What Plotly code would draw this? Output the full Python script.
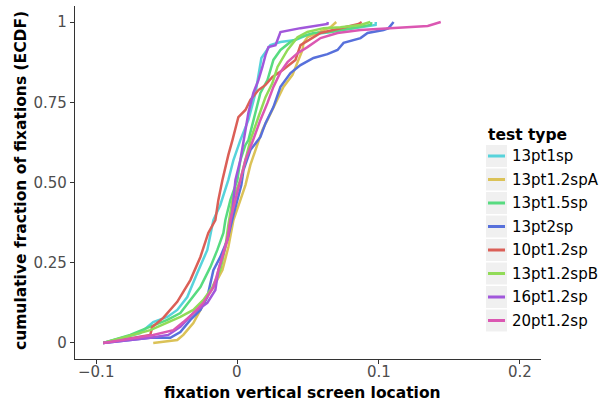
import plotly.graph_objects as go

# ---- data ----
names = ["13pt1sp", "13pt1.2spA", "13pt1.5sp", "13pt2sp",
         "10pt1.2sp", "13pt1.2spB", "16pt1.2sp", "20pt1.2sp"]
colors = ["#57d3db", "#dbc257", "#57db80", "#5770db",
          "#db5f57", "#91db57", "#a157db", "#db57b2"]

x_13pt1sp = [-0.095, -0.0688, -0.0596, -0.0496, -0.0426, -0.0355, -0.0284, -0.0213, -0.017, -0.0121,
             -0.0064, -0.0028, 0.0021, 0.0078, 0.0128, 0.0149, 0.017, 0.0234, 0.0305, 0.0411,
             0.0496, 0.061, 0.073, 0.0872, 0.0979, 0.098]
y_13pt1sp = [0, 0.031, 0.065, 0.081, 0.103, 0.143, 0.218, 0.29, 0.383, 0.43,
             0.508, 0.570, 0.632, 0.695, 0.779, 0.841, 0.888, 0.928, 0.938, 0.944,
             0.960, 0.966, 0.975, 0.984, 0.991, 1.0]

x_13pt12spA = [-0.0596, -0.0426, -0.0383, -0.0312, -0.0262, -0.0227, -0.017, -0.0106, -0.0064, -0.0028,
               0.0021, 0.0057, 0.0092, 0.0128, 0.0149, 0.0177, 0.0213, 0.027, 0.0326, 0.039,
               0.0426, 0.0461, 0.0468, 0.0496, 0.061, 0.066, 0.070]
y_13pt12spA = [0, 0.009, 0.025, 0.062, 0.103, 0.134, 0.174, 0.227, 0.299, 0.383,
               0.445, 0.492, 0.555, 0.601, 0.632, 0.664, 0.695, 0.748, 0.798, 0.835,
               0.872, 0.913, 0.935, 0.953, 0.975, 0.984, 1.0]

x_13pt15sp = [-0.095, -0.0759, -0.0638, -0.0496, -0.0404, -0.0333, -0.0262, -0.0191, -0.0142, -0.0099,
              -0.0085, -0.005, 0.0, 0.0021, 0.0057, 0.0078, 0.0128, 0.0163, 0.0213, 0.0255,
              0.0305, 0.0376, 0.0447, 0.0539, 0.066, 0.073, 0.0851, 0.0943, 0.095]
y_13pt15sp = [0, 0.025, 0.047, 0.072, 0.093, 0.134, 0.174, 0.237, 0.29, 0.343,
              0.383, 0.445, 0.508, 0.570, 0.617, 0.632, 0.717, 0.779, 0.819, 0.882,
              0.913, 0.938, 0.953, 0.966, 0.969, 0.975, 0.984, 0.991, 1.0]

x_13pt2sp = [-0.095, -0.0617, -0.0475, -0.0404, -0.0333, -0.0262, -0.0213, -0.017, -0.0121, -0.0071,
             -0.0028, 0.0028, 0.0043, 0.0092, 0.0163, 0.0199, 0.0255, 0.0305, 0.0376, 0.0447,
             0.0539, 0.0638, 0.0709, 0.0752, 0.0872, 0.0922, 0.1035, 0.1071, 0.1106]
y_13pt2sp = [0, 0.016, 0.016, 0.034, 0.072, 0.103, 0.143, 0.227, 0.268, 0.321,
             0.399, 0.492, 0.539, 0.601, 0.642, 0.685, 0.735, 0.798, 0.841, 0.866,
             0.888, 0.90, 0.913, 0.935, 0.950, 0.966, 0.975, 0.981, 1.0]

x_10pt12sp = [-0.095, -0.0617, -0.0603, -0.0525, -0.0426, -0.0333, -0.0262, -0.0206, -0.0156, -0.0135,
              -0.0106, -0.0085, -0.0064, -0.0035, 0.0007, 0.0057, 0.0092, 0.0149, 0.0199, 0.0248,
              0.0319, 0.0411, 0.0447, 0.0589, 0.073, 0.0858, 0.088]
y_10pt12sp = [0, 0.025, 0.05, 0.078, 0.128, 0.196, 0.268, 0.343, 0.383, 0.445,
              0.508, 0.548, 0.586, 0.632, 0.704, 0.726, 0.757, 0.788, 0.804, 0.829,
              0.850, 0.882, 0.928, 0.966, 0.981, 0.994, 1.0]

x_13pt12spB = [-0.095, -0.0794, -0.0617, -0.0404, -0.0312, -0.0241, -0.0177, -0.0121, -0.0085, -0.0064,
               -0.0035, 0.0021, 0.0057, 0.0092, 0.0149, 0.0199, 0.0248, 0.0284, 0.0355, 0.0426,
               0.0496, 0.061, 0.073, 0.0872, 0.094]
y_13pt12spB = [0, 0.019, 0.04, 0.081, 0.103, 0.134, 0.174, 0.227, 0.299, 0.368,
               0.445, 0.508, 0.570, 0.632, 0.704, 0.766, 0.81, 0.86, 0.913, 0.953,
               0.969, 0.981, 0.984, 0.991, 1.0]

x_16pt12sp = [-0.095, -0.0617, -0.0489, -0.0404, -0.0312, -0.0213, -0.0156, -0.0135, -0.0099, -0.0064,
              -0.0035, -0.0014, 0.0021, 0.0043, 0.0078, 0.0113, 0.0149, 0.0177, 0.0199, 0.022,
              0.027, 0.0305, 0.0447, 0.0638, 0.064]
y_16pt12sp = [0, 0.016, 0.025, 0.05, 0.093, 0.125, 0.165, 0.227, 0.28, 0.336,
              0.414, 0.508, 0.570, 0.632, 0.717, 0.779, 0.819, 0.86, 0.897, 0.922,
              0.928, 0.969, 0.981, 0.994, 1.0]

x_20pt12sp = [-0.095, -0.0596, -0.0454, -0.0383, -0.0312, -0.0241, -0.017, -0.0121, -0.0071, -0.005,
              -0.0014, 0.0021, 0.0057, 0.0106, 0.0163, 0.0213, 0.0255, 0.0305, 0.0355, 0.0426,
              0.0496, 0.0589, 0.0709, 0.0872, 0.1156, 0.1348, 0.144]
y_20pt12sp = [0, 0.025, 0.04, 0.065, 0.093, 0.125, 0.174, 0.249, 0.321, 0.383,
              0.445, 0.508, 0.570, 0.626, 0.695, 0.748, 0.798, 0.844, 0.875, 0.903,
              0.922, 0.95, 0.966, 0.975, 0.984, 0.988, 1.0]

series_x = [x_13pt1sp, x_13pt12spA, x_13pt15sp, x_13pt2sp,
            x_10pt12sp, x_13pt12spB, x_16pt12sp, x_20pt12sp]
series_y = [y_13pt1sp, y_13pt12spA, y_13pt15sp, y_13pt2sp,
            y_10pt12sp, y_13pt12spB, y_16pt12sp, y_20pt12sp]

x_ticks = [-0.1, 0, 0.1, 0.2]
x_ticklabels = ["\u22120.1", "0", "0.1", "0.2"]
y_ticks = [0, 0.25, 0.5, 0.75, 1]
y_ticklabels = ["0", "0.25", "0.50", "0.75", "1"]

FONT = "DejaVu Sans"

fig = go.Figure()
for nm, col, xs, ys in zip(names, colors, series_x, series_y):
    fig.add_trace(go.Scatter(x=xs, y=ys, mode="lines", name=nm,
                             line=dict(color=col, width=2.5),
                             showlegend=False))

# ---- layout geometry ----
W, H = 601, 403
L, R, T, B = 75, 60, 6, 44
pw, ph = W - L - R, H - T - B

def px(xp):
    return (xp - L) / pw

def py(yp):
    return (H - B - yp) / ph

shapes = []
annotations = []

# x tick labels (placed close to the axis, ggplot style)
for tv, tl in zip(x_ticks, x_ticklabels):
    annotations.append(dict(x=tv, y=py(372), xref="x", yref="paper",
                            text=tl, showarrow=False, xanchor="center", yanchor="middle",
                            font=dict(family=FONT, size=15, color="#4d4d4d")))

# custom legend (ggplot style with grey key boxes)
annotations.append(dict(x=px(486), y=py(135), xref="paper", yref="paper",
                        text="<b>test type</b>", showarrow=False,
                        xanchor="left", yanchor="middle",
                        font=dict(family=FONT, size=15.5, color="black")))
row0, step = 156, 23.5
for i, (nm, col) in enumerate(zip(names, colors)):
    cy = row0 + i * step
    shapes.append(dict(type="rect", xref="paper", yref="paper",
                       x0=px(486), x1=px(507), y0=py(cy - 11), y1=py(cy + 11),
                       fillcolor="#f0f0f0", line=dict(width=0), layer="below"))
    shapes.append(dict(type="line", xref="paper", yref="paper",
                       x0=px(488), x1=px(505), y0=py(cy), y1=py(cy),
                       line=dict(color=col, width=3)))
    annotations.append(dict(x=px(510), y=py(cy), xref="paper", yref="paper",
                            text=nm, showarrow=False, xanchor="left", yanchor="middle",
                            font=dict(family=FONT, size=15, color="black")))

# axis titles
annotations.append(dict(x=px(302), y=py(393), xref="paper", yref="paper",
                        text="<b>fixation vertical screen location</b>", showarrow=False,
                        xanchor="center", yanchor="middle",
                        font=dict(family=FONT, size=15.5, color="black")))
annotations.append(dict(x=px(21), y=py(181), xref="paper", yref="paper",
                        text="<b>cumulative fraction of fixations (ECDF)</b>", showarrow=False,
                        xanchor="center", yanchor="middle", textangle=-90,
                        font=dict(family=FONT, size=15.5, color="black")))

fig.update_layout(
    width=W, height=H,
    margin=dict(l=L, r=R, t=T, b=B, pad=0),
    paper_bgcolor="white", plot_bgcolor="white",
    font=dict(family=FONT, size=15, color="#4d4d4d"),
    shapes=shapes, annotations=annotations,
    showlegend=False,
)
fig.update_xaxes(range=[-0.115, 0.215], tickvals=x_ticks, showticklabels=False,
                 showgrid=False, zeroline=False, showline=True, linecolor="#333333",
                 linewidth=1.2, ticks="outside", ticklen=4, tickcolor="#333333")
fig.update_yaxes(range=[-0.05, 1.05], tickvals=y_ticks, ticktext=y_ticklabels,
                 showgrid=False, zeroline=False, showline=True, linecolor="#333333",
                 linewidth=1.2, ticks="outside", ticklen=4, tickcolor="#333333",
                 tickfont=dict(family=FONT, size=15, color="#4d4d4d"))

fig.write_html("out.html")
